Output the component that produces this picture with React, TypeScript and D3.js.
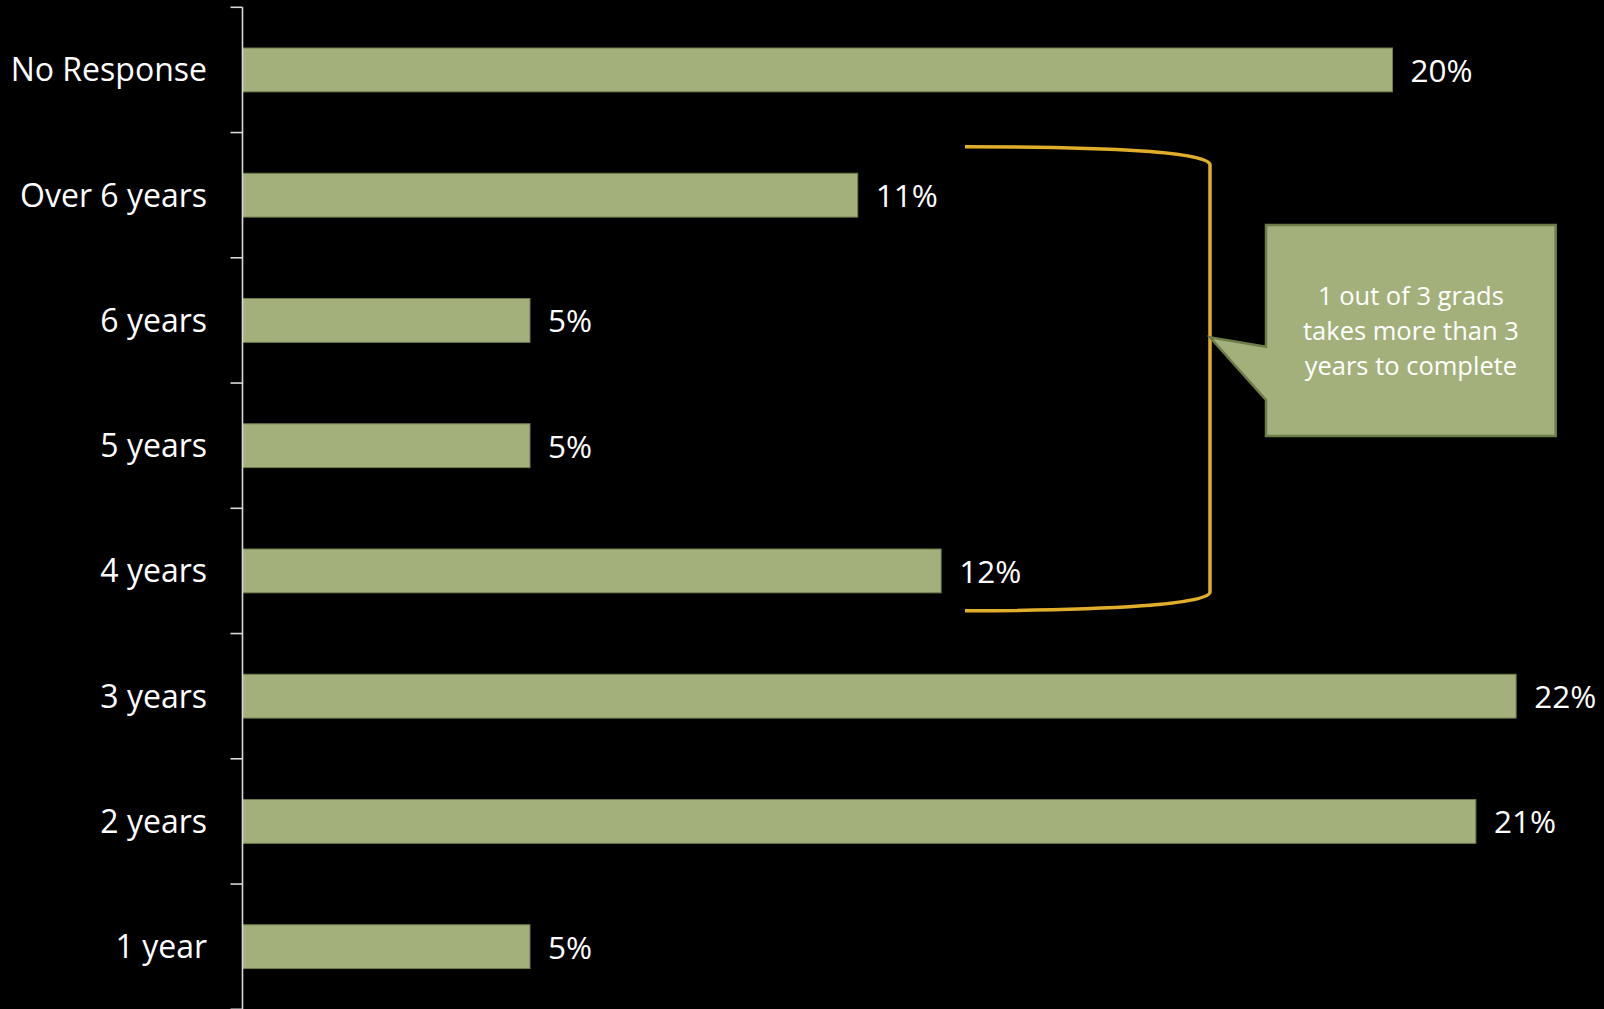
import React, { useEffect } from "react";
import * as d3 from "d3";

const categories = ["No Response", "Over 6 years", "6 years", "5 years", "4 years", "3 years", "2 years", "1 year"];
const values = [20.0, 10.7, 5.0, 5.0, 12.15, 22.15, 21.45, 5.0];
const valueLabels = ["20%", "11%", "5%", "5%", "12%", "22%", "21%", "5%"];
const calloutLines = ["1 out of 3 grads", "takes more than 3", "years to complete"];

const W = 1604;
const H = 1009;
const FONT = "'Open Sans', 'Noto Sans', sans-serif";
const BAR = "#A3B07B";
const BAR_EDGE = "#6E7C48";
const GOLD = "#E0AE2A";

export default function App() {
  useEffect(() => {
    document.body.style.margin = "0";
    document.body.style.background = "#000";
  }, []);

  const axisX = 242.5;
  const x = d3.scaleLinear().domain([0, 25]).range([axisX, axisX + 57.5 * 25]);
  const y = d3.scaleBand<string>().domain(categories).range([7.3, 1009.3]).paddingInner(0.65).paddingOuter(0.325);
  const step = y.step();
  const boundaries = d3.range(categories.length + 1).map((i) => 7.3 + i * step);

  const brace = "M965,146.7 C1110,147 1210,152 1210,165 L1210,592 C1210,604 1110,610.7 965,610.7";
  const callout = "M1266,225 H1555.7 V436 H1266 V400 L1210,337.3 L1266,346.7 Z";

  return (
    <svg width={W} height={H} style={{ display: "block", background: "#000" }} fontFamily={FONT}>
      <rect x={0} y={0} width={W} height={H} fill="#000" />
      {categories.map((c, i) => (
        <g key={c}>
          <rect
            x={x(0)}
            y={y(c)}
            width={x(values[i]) - x(0)}
            height={y.bandwidth()}
            fill={BAR}
            stroke={BAR_EDGE}
            strokeWidth={1}
          />
          <text x={207} y={(y(c) as number) + y.bandwidth() / 2} dy="0.36em" textAnchor="end" fill="#fff" fontSize={32}>
            {c}
          </text>
          <text x={x(values[i]) + 18} y={(y(c) as number) + y.bandwidth() / 2} dy="0.38em" fill="#fff" fontSize={31.5}>
            {valueLabels[i]}
          </text>
        </g>
      ))}
      <line x1={axisX} x2={axisX} y1={boundaries[0]} y2={H} stroke="#D9D9D9" strokeWidth={1.6} />
      {boundaries.map((b, i) => (
        <line key={i} x1={axisX - 12} x2={axisX} y1={b} y2={b} stroke="#D9D9D9" strokeWidth={1.6} />
      ))}
      <path d={brace} fill="none" stroke={GOLD} strokeWidth={3.5} />
      <path d={callout} fill={BAR} stroke={BAR_EDGE} strokeWidth={2.5} />
      {calloutLines.map((t, i) => (
        <text key={t} x={1410.9} y={305 + i * 35} textAnchor="middle" fill="#fff" fontSize={25.5}>
          {t}
        </text>
      ))}
    </svg>
  );
}
